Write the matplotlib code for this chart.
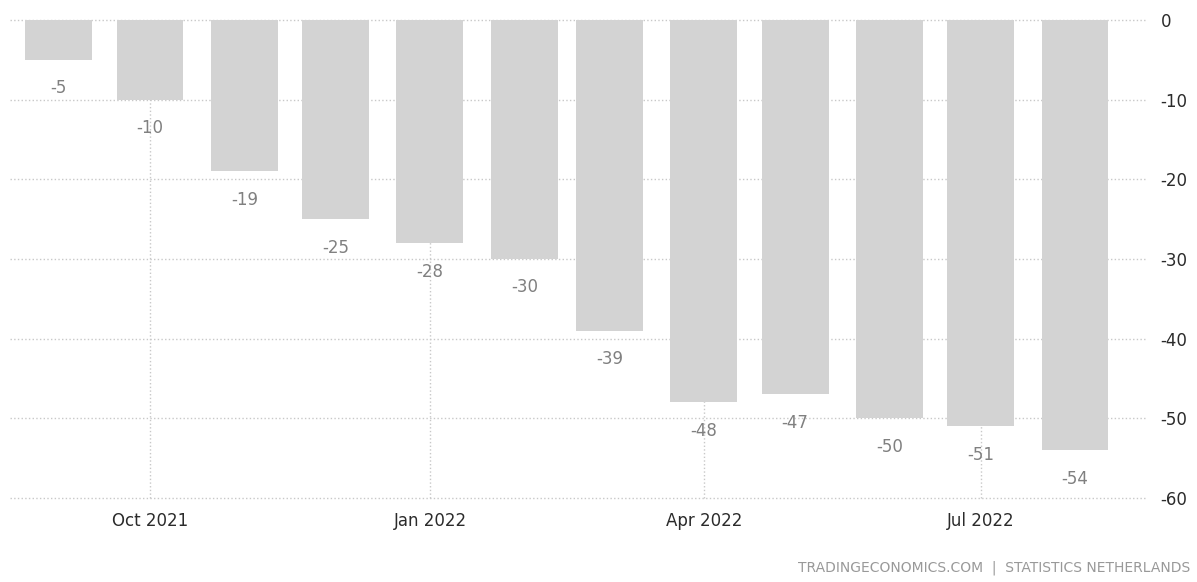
import matplotlib
matplotlib.use("Agg")
import matplotlib.pyplot as plt
import matplotlib.dates as mdates
import numpy as np
from datetime import datetime, timedelta

# consumer confidence, Netherlands
months = ['2021-09', '2021-10', '2021-11', '2021-12', '2022-01', '2022-02',
          '2022-03', '2022-04', '2022-05', '2022-06', '2022-07', '2022-08']
values = [-5, -10, -19, -25, -28, -30, -39, -48, -47, -50, -51, -54]
yticks = [0, -10, -20, -30, -40, -50, -60]
xtick_months = ['2021-10', '2022-01', '2022-04', '2022-07']

dates = [datetime.strptime(m, '%Y-%m') for m in months]
xt = [datetime.strptime(m, '%Y-%m') for m in xtick_months]

fig = plt.figure(figsize=(11.97, 5.82), dpi=100)
ax = fig.add_axes([0.0084, 0.1443, 0.9578 - 0.0084, 0.9656 - 0.1443])

ax.bar(dates, values, width=22, color='#d3d3d3', zorder=2)

for d, v in zip(dates, values):
    ax.annotate(str(v), (d, v), xytext=(0, -14), textcoords='offset points',
                ha='center', va='top', fontsize=12, color='#808080')

ax.set_ylim(-60, 0)
ax.set_xlim(dates[0] - timedelta(days=16), dates[-1] + timedelta(days=23.5))
ax.set_yticks(yticks)
ax.set_yticklabels([str(t) for t in yticks])
ax.set_xticks(xt)
ax.xaxis.set_major_formatter(mdates.DateFormatter('%b %Y'))

ax.yaxis.tick_right()
ax.tick_params(axis='y', length=0, pad=10, labelsize=12, labelcolor='#2b2b2b')
ax.tick_params(axis='x', length=0, pad=10, labelsize=12, labelcolor='#2b2b2b')
ax.grid(True, color='#c8c8c8', linestyle=':', linewidth=1, zorder=0)
for gl in ax.get_xgridlines() + ax.get_ygridlines():
    gl.set_clip_on(False)
ax.set_axisbelow(True)
for s in ax.spines.values():
    s.set_visible(False)

fig.text(0.994, 0.012, 'TRADINGECONOMICS.COM  |  STATISTICS NETHERLANDS',
         ha='right', va='bottom', fontsize=10, color='#999999')

fig.savefig('out.png', dpi=100)
